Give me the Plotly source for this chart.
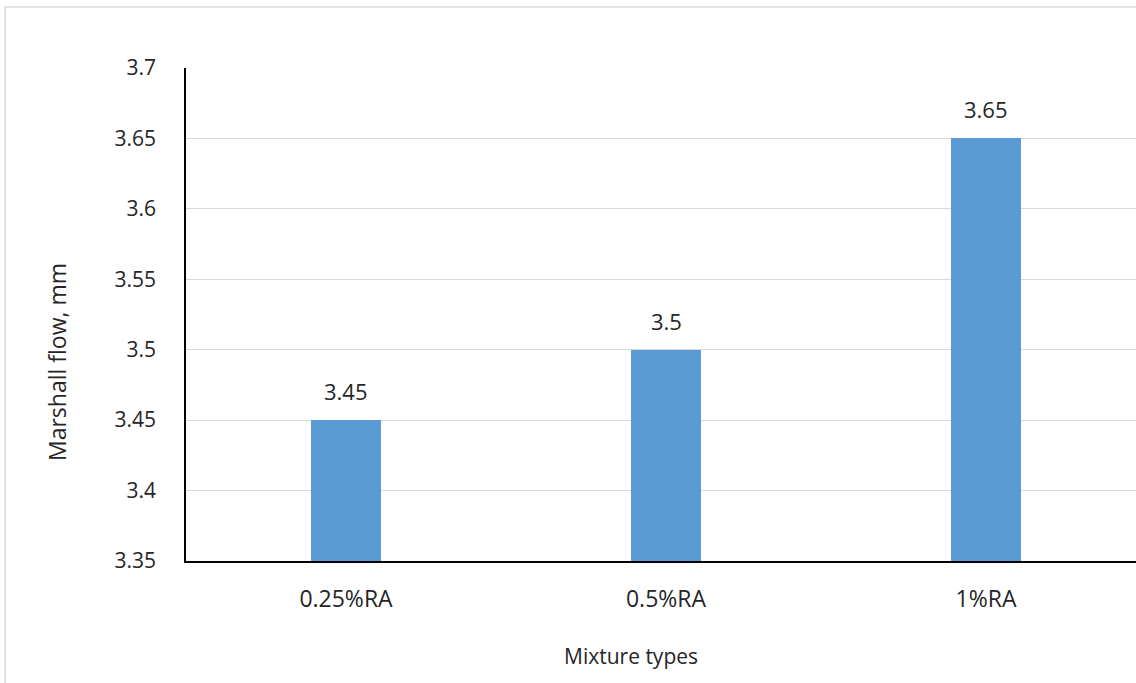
import plotly.graph_objects as go

categories = ["0.25%RA", "0.5%RA", "1%RA"]
flow_values = [3.45, 3.5, 3.65]
y_ticks = [3.35, 3.4, 3.45, 3.5, 3.55, 3.6, 3.65, 3.7]
y_floor = 3.35
y_top = 3.7

W, H = 1136, 683
L, T, B, R = 186, 68, 122, 0
plot_w = W - L - R
plot_h = H - T - B

font_family = "Open Sans, Liberation Sans, sans-serif"
text_color = "#262626"

fig = go.Figure()
fig.add_trace(go.Bar(
    x=list(range(len(categories))),
    y=[v - y_floor for v in flow_values],
    base=y_floor,
    width=0.22,
    marker=dict(color="#5B9BD5", line=dict(width=0)),
    hoverinfo="skip",
))

# value labels above each bar
for i, v in enumerate(flow_values):
    fig.add_annotation(
        x=i, y=v, xref="x", yref="y",
        text=f"{v:g}", showarrow=False,
        yanchor="bottom", yshift=12,
        font=dict(size=22, color=text_color, family=font_family),
    )

# each category band is 320 px wide; the right edge of the last band is cut
span = 3 * plot_w / 960.0
fig.update_xaxes(
    range=[-0.5, -0.5 + span],
    tickmode="array",
    tickvals=list(range(len(categories))),
    ticktext=categories,
    showline=True, linecolor="#000000", linewidth=1.5,
    showgrid=False, zeroline=False, ticks="",
    tickfont=dict(size=23, color=text_color, family=font_family),
    ticklabelstandoff=17,
)
fig.update_yaxes(
    range=[y_floor, y_top],
    tickmode="array",
    tickvals=y_ticks,
    ticktext=[f"{v:g}" for v in y_ticks],
    showline=True, linecolor="#000000", linewidth=1.5,
    showgrid=True, gridcolor="#D9D9D9", gridwidth=1,
    zeroline=False, ticks="",
    tickfont=dict(size=21, color=text_color, family=font_family),
    ticklabelstandoff=24,
)

# axis titles
fig.add_annotation(
    x=(631 - L) / plot_w, y=-(656 - T - plot_h) / plot_h,
    xref="paper", yref="paper", showarrow=False,
    text="Mixture types", xanchor="center", yanchor="middle",
    font=dict(size=21, color=text_color, family=font_family),
)
fig.add_annotation(
    x=(57 - L) / plot_w, y=1 - (362 - T) / plot_h,
    xref="paper", yref="paper", showarrow=False, textangle=-90,
    text="Marshall flow, mm", xanchor="center", yanchor="middle",
    font=dict(size=23, color=text_color, family=font_family),
)

# chart frame
fig.add_shape(
    type="rect", xref="paper", yref="paper",
    x0=(5 - L) / plot_w, x1=(W + 20 - L) / plot_w,
    y0=-(H + 20 - T - plot_h) / plot_h, y1=1 + (T - 7) / plot_h,
    line=dict(color="#D9D9D9", width=1.5), fillcolor="rgba(0,0,0,0)",
    layer="below",
)

fig.update_layout(
    width=W, height=H,
    margin=dict(l=L, r=R, t=T, b=B),
    paper_bgcolor="white", plot_bgcolor="white",
    showlegend=False,
    font=dict(family=font_family, color=text_color),
    bargap=0,
)

fig.write_html("out.html")
